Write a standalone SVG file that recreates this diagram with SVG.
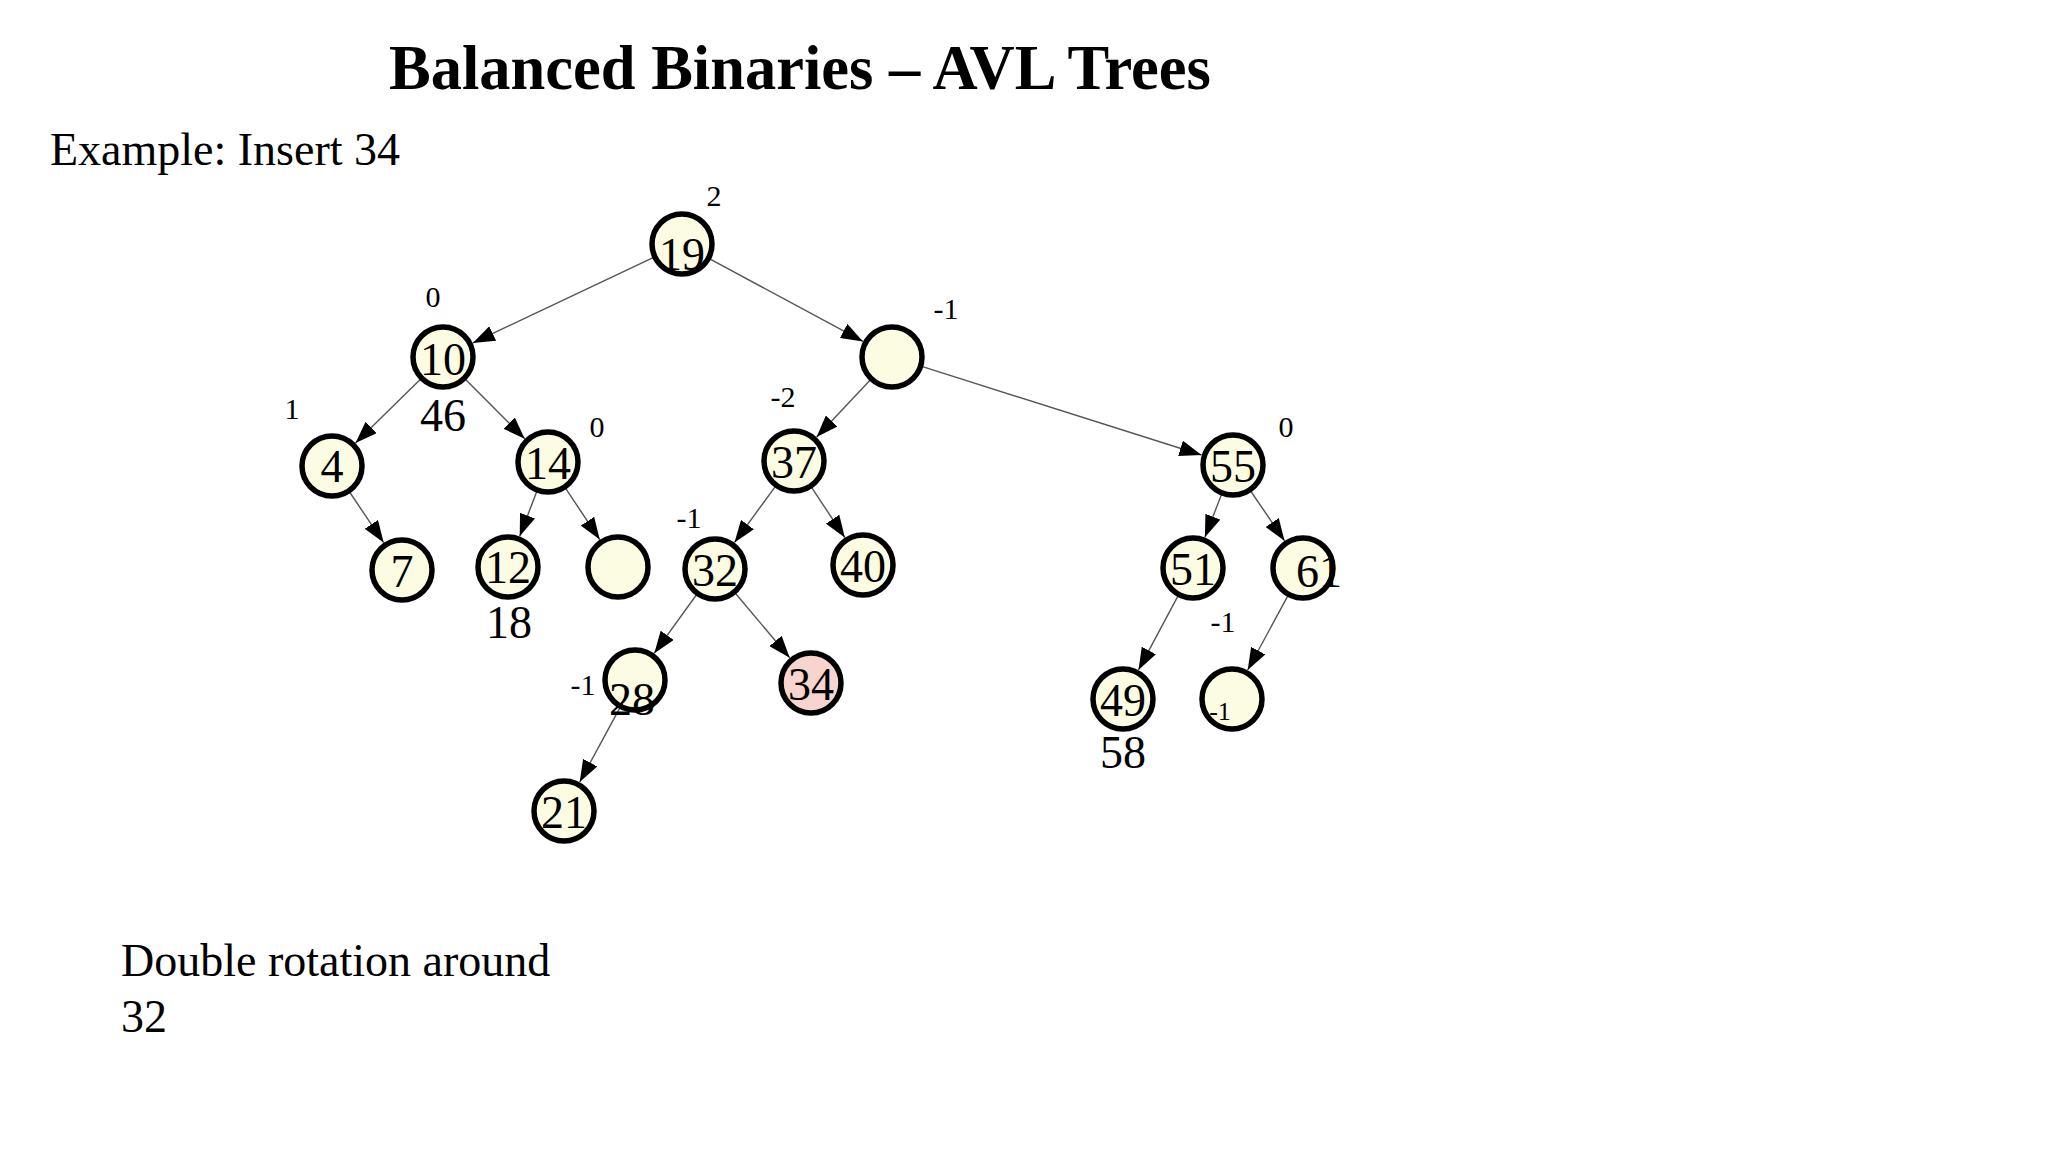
<svg xmlns="http://www.w3.org/2000/svg" width="2048" height="1152" viewBox="0 0 2048 1152">
<style>
text{font-family:"Liberation Serif","Times New Roman",serif;fill:#000}
.title{font-size:62.5px;font-weight:bold}
.body{font-size:46px}
.nl{font-size:46px;text-anchor:middle}
.bal{font-size:30px;text-anchor:middle}
.sm{font-size:26px;text-anchor:middle}
.node{fill:#fcfce3;stroke:#000;stroke-width:5.5}
.new{fill:#f8d4ce}
.edge{stroke:#555;stroke-width:1.4;fill:none;marker-end:url(#arr)}
</style>
<defs>
<marker id="arr" markerUnits="userSpaceOnUse" markerWidth="22" markerHeight="16" refX="22" refY="8" orient="auto">
<path d="M0,0 L22,8 L0,16 z" fill="#000"/>
</marker>
</defs>
<rect width="2048" height="1152" fill="#fff"/>
<text class="title" x="389" y="89">Balanced Binaries – AVL Trees</text>
<text class="body" x="50" y="165">Example: Insert 34</text>
<text class="body" x="121" y="976">Double rotation around</text>
<text class="body" x="121" y="1032">32</text>

<g id="connectors">
<line class="edge" x1="653.1" y1="257.7" x2="472.8" y2="342.9"/>
<line class="edge" x1="710.2" y1="259.2" x2="863.0" y2="341.4"/>
<line class="edge" x1="420.2" y1="379.4" x2="355.5" y2="442.9"/>
<line class="edge" x1="465.6" y1="379.6" x2="524.7" y2="438.7"/>
<line class="edge" x1="870.0" y1="380.3" x2="816.6" y2="437.0"/>
<line class="edge" x1="922.5" y1="366.7" x2="1201.5" y2="455.0"/>
<line class="edge" x1="349.9" y1="492.5" x2="383.6" y2="542.6"/>
<line class="edge" x1="536.6" y1="491.9" x2="519.7" y2="536.2"/>
<line class="edge" x1="565.8" y1="488.6" x2="599.7" y2="539.5"/>
<line class="edge" x1="775.1" y1="486.8" x2="734.5" y2="542.4"/>
<line class="edge" x1="811.7" y1="487.7" x2="844.8" y2="537.5"/>
<line class="edge" x1="1221.4" y1="494.8" x2="1204.9" y2="537.2"/>
<line class="edge" x1="1251.0" y1="491.5" x2="1284.5" y2="540.7"/>
<line class="edge" x1="696.3" y1="595.0" x2="654.3" y2="653.2"/>
<line class="edge" x1="735.6" y1="593.5" x2="789.7" y2="657.8"/>
<line class="edge" x1="1177.9" y1="596.2" x2="1138.5" y2="669.9"/>
<line class="edge" x1="1287.7" y1="596.1" x2="1247.7" y2="670.0"/>
<line class="edge" x1="619.7" y1="708.1" x2="579.7" y2="782.0"/>
</g>

<g id="n19"><circle class="node" cx="682" cy="244" r="30"/><text class="nl" x="682" y="270">19</text><text class="bal" x="714" y="206">2</text></g>
<g id="n10"><circle class="node" cx="443" cy="357" r="30"/><text class="nl" x="443" y="375">10</text><text class="bal" x="433" y="307">0</text><text class="nl" x="443" y="431">46</text></g>
<g id="nR"><circle class="node" cx="892" cy="357" r="30"/><text class="bal" x="946" y="319">-1</text></g>
<g id="n4"><circle class="node" cx="332" cy="466" r="30"/><text class="nl" x="332" y="482">4</text><text class="bal" x="292" y="419">1</text></g>
<g id="n14"><circle class="node" cx="548" cy="462" r="30"/><text class="nl" x="548" y="479">14</text><text class="bal" x="597" y="437">0</text></g>
<g id="n37"><circle class="node" cx="794" cy="461" r="30"/><text class="nl" x="794" y="478">37</text><text class="bal" x="783" y="407">-2</text></g>
<g id="n55"><circle class="node" cx="1233" cy="465" r="30"/><text class="nl" x="1233" y="482">55</text><text class="bal" x="1286" y="437">0</text></g>
<g id="n7"><circle class="node" cx="402" cy="570" r="30"/><text class="nl" x="402" y="587">7</text></g>
<g id="n12"><circle class="node" cx="508" cy="567" r="30"/><text class="nl" x="508" y="583">12</text><text class="nl" x="509" y="638">18</text></g>
<g id="nE14"><circle class="node" cx="618" cy="567" r="30"/></g>
<g id="n32"><circle class="node" cx="715" cy="569" r="30"/><text class="nl" x="715" y="586">32</text><text class="bal" x="689" y="528">-1</text></g>
<g id="n40"><circle class="node" cx="863" cy="565" r="30"/><text class="nl" x="863" y="582">40</text></g>
<g id="n51"><circle class="node" cx="1193" cy="568" r="30"/><text class="nl" x="1193" y="585">51</text><text class="bal" x="1223" y="632">-1</text></g>
<g id="n61"><circle class="node" cx="1303" cy="568" r="30"/><text class="nl" x="1319" y="587">61</text></g>
<g id="n28"><circle class="node" cx="635" cy="680" r="30"/><text class="nl" x="632" y="715">28</text><text class="bal" x="583" y="695">-1</text></g>
<g id="n34"><circle class="node new" cx="811" cy="683" r="30"/><text class="nl" x="811" y="700">34</text></g>
<g id="n49"><circle class="node" cx="1123" cy="699" r="30"/><text class="nl" x="1123" y="716">49</text><text class="nl" x="1123" y="768">58</text></g>
<g id="nE61"><circle class="node" cx="1232" cy="699" r="30"/><text class="sm" x="1220" y="720">-1</text></g>
<g id="n21"><circle class="node" cx="564" cy="811" r="30"/><text class="nl" x="564" y="828">21</text></g>
</svg>
